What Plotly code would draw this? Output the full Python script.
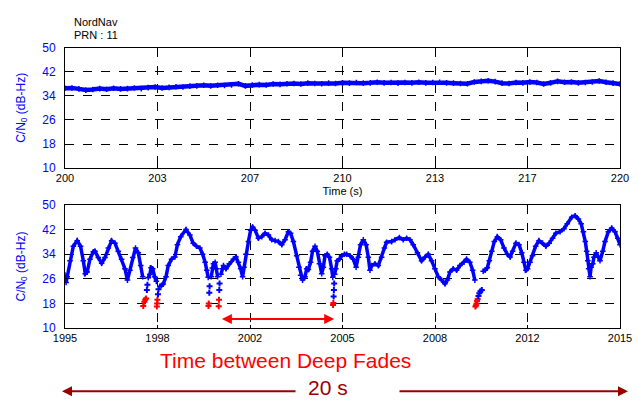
import numpy as np
import plotly.graph_objects as go

# ---------------- data ----------------
# Upper panel: C/N0 of PRN 11, 200-220 s (dB-Hz)
top_cn0 = [
    36.5, 36.6, 36.3, 35.9, 36.1, 36.4, 36.2, 36.5, 36.3, 36.4,
    36.6, 36.4, 36.7, 36.9, 36.6, 36.8, 37.0, 36.9, 37.2, 37.3,
    37.5, 37.3, 37.5, 37.4, 37.6, 38.0, 37.3, 37.6, 37.7, 37.6,
    37.9, 37.8, 38.0, 38.1, 37.9, 38.2, 38.1, 38.0, 38.2, 38.1,
    38.3, 38.2, 38.4, 38.2, 38.3, 38.5, 38.3, 38.4, 38.2, 38.4,
    38.3, 38.5, 38.3, 38.4, 38.5, 38.3, 38.2, 38.1, 38.0, 38.6,
    38.8, 39.0, 38.7, 38.2, 38.1, 38.4, 38.3, 38.6, 38.4, 37.9,
    38.3, 38.8, 38.5, 38.6, 38.3, 38.4, 38.6, 38.9, 38.5, 38.2,
    37.9,
]
top_time = np.linspace(200, 220, len(top_cn0))

# Lower panel: tracked C/N0 between deep fades (None separates the tracked arcs)
track_time = [
    1995.00, 1995.04, 1995.08, 1995.18, 1995.30, 1995.44, 1995.56, 1995.66, 1995.73, 1995.80,
    1995.90, 1996.02, 1996.08, 1996.20, 1996.32, 1996.44, 1996.56, 1996.68, 1996.80, 1996.92,
    1997.04, 1997.16, 1997.25, 1997.34, 1997.44, 1997.54, 1997.64, 1997.73, 1997.80, None,
    1998.00, 1998.06, 1998.10, 1998.16, 1998.23, 1998.29, None,
    1998.42, 1998.48, 1998.54, 1998.64, 1998.72, 1998.84, 1998.96, 1999.05, 1999.17, 1999.36,
    1999.50, 1999.62, 1999.74, 1999.86, 1999.96, 2000.05, 2000.11, 2000.16, None,
    2000.27, 2000.31, 2000.35, 2000.41, 2000.45, 2000.50, None,
    2000.62, 2000.66, 2000.71, 2000.80, 2000.92, 2001.07, 2001.16, 2001.25, 2001.33, 2001.40,
    2001.45, 2001.52, 2001.61, 2001.69, 2001.76, 2001.85, 2001.97, 2002.09, 2002.21, 2002.33,
    2002.45, 2002.57, 2002.69, 2002.81, 2002.93, 2003.05, 2003.13, 2003.23, 2003.35, 2003.43,
    2003.49, 2003.56, 2003.65, 2003.71, 2003.77, 2003.85, 2003.92, 2004.01, 2004.09, 2004.17,
    2004.25, 2004.31, 2004.37, 2004.45, 2004.53, 2004.61, 2004.65, None,
    2004.72, 2004.76, 2004.81, 2004.89, 2004.97, 2005.07, 2005.15, 2005.27, 2005.39, 2005.49,
    2005.57, 2005.65, 2005.75, 2005.85, 2005.93, 2005.99, 2006.05, 2006.17, 2006.29, 2006.41,
    2006.51, 2006.59, 2006.77, 2006.89, 2007.05, 2007.19, 2007.31, 2007.43, 2007.55, 2007.70,
    2007.85, 2007.97, 2008.09, 2008.21, 2008.33, 2008.45, 2008.57, 2008.69, 2008.78, 2008.87,
    2008.99, 2009.11, 2009.23, 2009.38, 2009.47, 2009.59, 2009.69, 2009.77, None,
    2010.07, 2010.14, 2010.22, 2010.29, 2010.38, 2010.47, 2010.58, 2010.70, 2010.82, 2010.94,
    2011.04, 2011.13, 2011.25, 2011.36, 2011.46, 2011.54, 2011.61, 2011.67, 2011.76, 2011.85,
    2011.96, 2012.08, 2012.21, 2012.33, 2012.45, 2012.57, 2012.69, 2012.84, 2012.98, 2013.10,
    2013.26, 2013.38, 2013.50, 2013.60, 2013.68, 2013.75, 2013.80, 2013.84, 2013.87, 2013.92,
    2013.96, 2014.02, 2014.06, 2014.14, 2014.22, 2014.28, 2014.38, 2014.46, 2014.58, 2014.70,
    2014.82, 2014.92, 2015.00,
]
track_cn0 = [
    27.2, 24.8, 26.7, 31.9, 36.6, 38.4, 36.6, 31.9, 27.7, 28.2,
    32.4, 34.8, 35.0, 32.9, 31.1, 32.9, 36.0, 38.4, 37.6, 35.0,
    32.4, 29.3, 25.6, 28.8, 32.9, 36.0, 34.5, 30.3, 26.7, None,
    26.4, 27.5, 29.6, 29.3, 26.7, 25.2, None,
    23.6, 23.9, 24.3, 26.7, 30.3, 32.4, 33.1, 37.1, 39.7, 42.0,
    40.2, 37.6, 36.6, 36.0, 34.0, 31.4, 28.8, 26.5, None,
    26.7, 29.5, 30.9, 31.4, 29.3, 26.7, None,
    27.5, 29.3, 30.3, 29.3, 30.9, 32.4, 33.1, 31.4, 29.3, 26.7,
    29.8, 34.0, 38.1, 41.8, 42.8, 41.8, 39.2, 39.7, 40.8, 40.2,
    38.7, 38.4, 38.1, 37.1, 38.7, 41.3, 40.8, 38.1, 33.5, 29.8,
    27.2, 25.6, 26.7, 29.3, 29.0, 31.4, 35.0, 36.6, 35.0, 30.9,
    27.7, 29.8, 33.5, 34.0, 33.0, 29.3, 26.5, None,
    27.5, 29.3, 31.9, 32.4, 33.5, 34.0, 34.0, 33.5, 32.4, 29.8,
    33.0, 37.1, 38.7, 37.1, 33.0, 28.8, 30.3, 30.9, 30.3, 33.0,
    36.0, 37.9, 38.1, 38.7, 39.4, 38.7, 39.2, 38.7, 37.1, 34.5,
    31.9, 33.0, 34.0, 31.9, 29.3, 26.7, 25.6, 24.4, 25.6, 28.2,
    29.3, 28.8, 30.3, 31.4, 32.4, 31.4, 28.8, 25.6, None,
    28.5, 28.8, 29.6, 31.9, 35.0, 38.1, 39.7, 38.7, 36.0, 34.0,
    33.1, 35.0, 37.6, 37.1, 34.5, 31.4, 28.8, 29.3, 31.4, 33.5,
    36.6, 38.4, 37.6, 36.6, 37.6, 39.2, 40.8, 41.3, 42.3, 43.9,
    46.0, 46.5, 45.4, 43.9, 41.3, 38.1, 35.0, 31.9, 29.3, 26.7,
    29.8, 30.9, 33.0, 34.5, 33.0, 31.9, 35.0, 38.1, 41.3, 42.5,
    41.3, 39.2, 37.1,
]

# Isolated samples during the deep fades
fade_time = [
    1997.82, 1997.86, 1997.89, 1997.92, 1997.95, 1997.97,
    1998.31, 1998.32, 1998.33, 1998.35, 1998.37,
    2000.17, 2000.18, 2000.20, 2000.21,
    2000.54, 2000.55, 2000.56, 2000.57,
    2004.66, 2004.67, 2004.68, 2004.69, 2004.70,
    2009.79, 2009.81, 2009.83, 2009.85, 2009.87, 2009.90, 2009.93, 2009.97, 2010.02,
]
fade_cn0 = [
    17.2, 18.6, 19.2, 19.6, 22.4, 24.1,
    17.0, 18.0, 19.2, 21.0, 22.6,
    17.2, 18.0, 21.5, 23.6,
    17.1, 19.2, 22.4, 24.5,
    17.5, 18.2, 20.3, 22.4, 24.5,
    17.0, 17.4, 18.0, 18.8, 19.5, 20.4, 21.3, 22.0, 22.4,
]
deep_fade_threshold = 20.0

# Span between the two marked deep fades (s)
fade_span = [2000.60, 2004.70]

# Axis ticks
top_tick_text = ["200", "203", "207", "210", "213", "217", "220"]
bot_tick_text = ["1995", "1998", "2002", "2005", "2008", "2012", "2015"]
y_ticks = [10, 18, 26, 34, 42, 50]

# ---------------- figure ----------------
W, H = 639, 405
ML, MR = 65, 19
BLUE = "#0000ff"
RED = "#ff0000"
DARKRED = "#990000"
FONT = "Arial, Liberation Sans, sans-serif"


def px(xp):
    """Horizontal pixel position -> paper coordinate (paper spans the plot area)."""
    return (xp - ML) / (W - ML - MR)


def py(yp):
    return 1 - yp / H


fig = go.Figure()

fig.add_trace(go.Scatter(
    x=top_time, y=top_cn0, mode="lines+markers",
    line=dict(color=BLUE, width=4.5),
    marker=dict(symbol="cross-thin", size=4, line=dict(color=BLUE, width=1.5)),
    xaxis="x", yaxis="y", showlegend=False,
))

fig.add_trace(go.Scatter(
    x=track_time, y=track_cn0, mode="lines+markers", connectgaps=False,
    line=dict(color=BLUE, width=3.5),
    marker=dict(symbol="cross-thin", size=4, line=dict(color=BLUE, width=1.5)),
    xaxis="x2", yaxis="y2", showlegend=False,
))

fade_colors = [RED if v < deep_fade_threshold else BLUE for v in fade_cn0]
fig.add_trace(go.Scatter(
    x=fade_time, y=fade_cn0, mode="markers",
    marker=dict(symbol="cross", size=5, color=fade_colors, line=dict(width=0)),
    xaxis="x2", yaxis="y2", showlegend=False,
))

grid = dict(showgrid=True, gridcolor="black", gridwidth=1, griddash="dash",
            showline=True, linecolor="black", linewidth=1, mirror=True,
            zeroline=False, ticks="inside", ticklen=3, tickcolor="black")

top_ticks = np.linspace(200, 220, len(top_tick_text))
bot_ticks = np.linspace(1995, 2015, len(bot_tick_text))

ytitle = dict(text="C/N<sub>0</sub> (dB-Hz)", font=dict(color=BLUE, size=12, family=FONT), standoff=14)

fig.update_layout(
    width=W, height=H,
    margin=dict(l=ML, r=MR, t=0, b=0),
    paper_bgcolor="white", plot_bgcolor="white",
    font=dict(family=FONT, size=11, color="black"),
    xaxis=dict(domain=[0, 1], range=[200, 220], anchor="y",
               tickvals=top_ticks, ticktext=top_tick_text,
               tickfont=dict(size=11, color="black"),
               title=dict(text="Time (s)", font=dict(size=11), standoff=3),
               **grid),
    yaxis=dict(domain=[0.5877, 0.8963], range=[10, 50], anchor="x",
               tickvals=y_ticks, tickfont=dict(size=12, color=BLUE),
               ticklabelstandoff=6, title=ytitle, **grid),
    xaxis2=dict(domain=[0, 1], range=[1995, 2015], anchor="y2",
                tickvals=bot_ticks, ticktext=bot_tick_text,
                tickfont=dict(size=11, color="black"), **grid),
    yaxis2=dict(domain=[0.1786, 0.4938], range=[10, 50], anchor="x2",
                tickvals=y_ticks, tickfont=dict(size=12, color=BLUE),
                ticklabelstandoff=6, title=ytitle, **grid),
)

annotations = [
    dict(text="NordNav", x=px(72), y=py(16), xref="paper", yref="paper",
         xanchor="left", yanchor="middle", showarrow=False, font=dict(size=11, color="black")),
    dict(text="PRN : 11", x=px(72), y=py(29), xref="paper", yref="paper",
         xanchor="left", yanchor="middle", showarrow=False, font=dict(size=11, color="black")),
    # double-headed arrow marking the interval between deep fades
    dict(x=fade_span[1], y=13.0, ax=fade_span[0], ay=13.0,
         xref="x2", yref="y2", axref="x2", ayref="y2",
         text="", showarrow=True, arrowhead=2, startarrowhead=2, arrowside="end+start",
         arrowsize=1, arrowwidth=2, arrowcolor=RED),
    dict(text="Time between Deep Fades", x=px(285), y=py(366),
         xref="paper", yref="paper", xanchor="center", yanchor="middle",
         showarrow=False, font=dict(size=21, color=RED)),
    dict(text="20 s", x=px(328), y=py(394),
         xref="paper", yref="paper", xanchor="center", yanchor="middle",
         showarrow=False, font=dict(size=21, color=DARKRED)),
    # 20 s span arrows
    dict(x=px(62), y=py(398), xref="paper", yref="paper",
         ax=235, ay=0, text="", showarrow=True, arrowhead=2, arrowsize=1,
         arrowwidth=2, arrowcolor=DARKRED),
    dict(x=px(628), y=py(398), xref="paper", yref="paper",
         ax=-230, ay=0, text="", showarrow=True, arrowhead=2, arrowsize=1,
         arrowwidth=2, arrowcolor=DARKRED),
]
fig.update_layout(annotations=annotations)

fig.write_html("out.html")
